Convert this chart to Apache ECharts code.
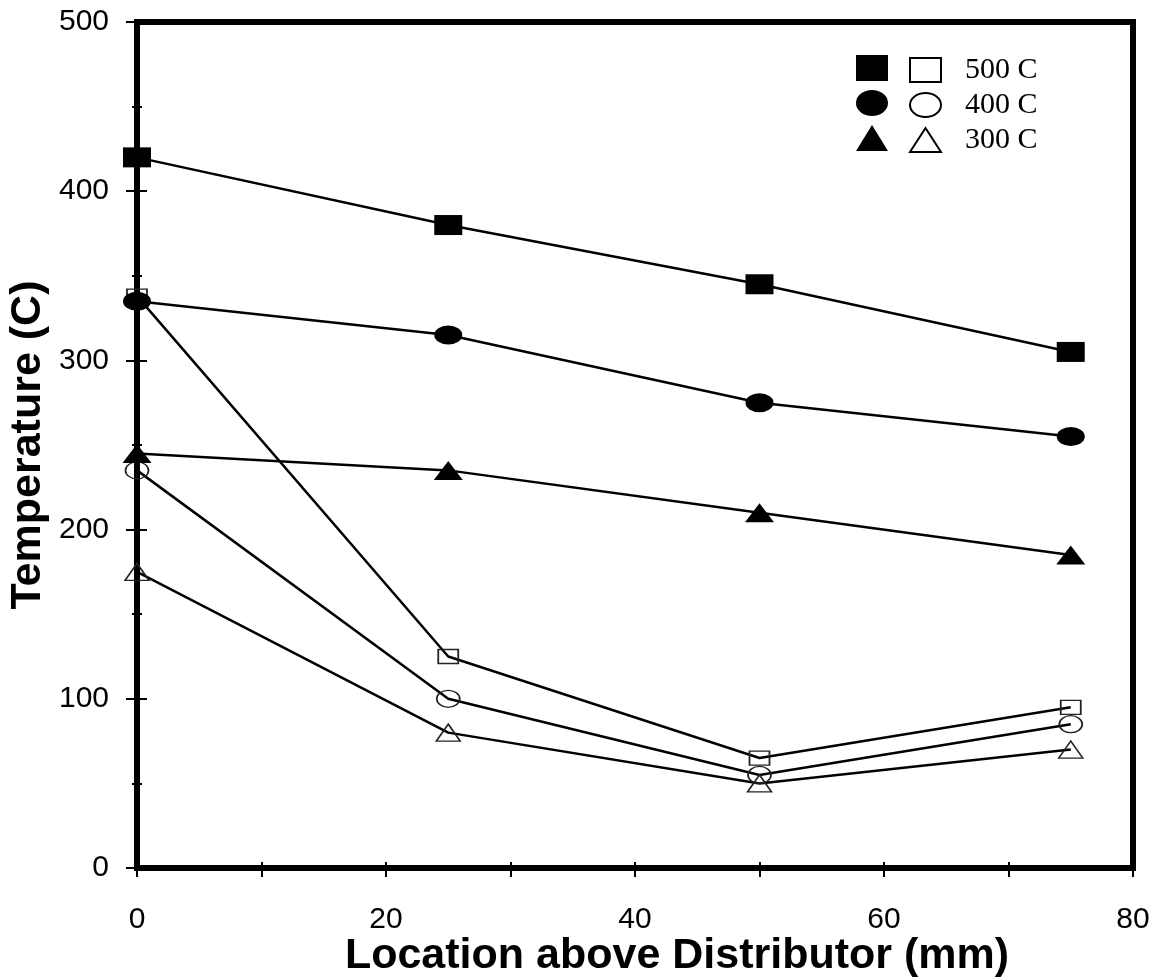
<!DOCTYPE html>
<html>
<head>
<meta charset="utf-8">
<script src="https://cdn.jsdelivr.net/npm/echarts@6/dist/echarts.min.js"></script>
<style>
  html, body { margin: 0; padding: 0; background: #fff; }
  #chart { width: 1154px; height: 980px; }
</style>
</head>
<body>
<div id="chart"></div>
<script>
// Bed temperature profiles along the height above the distributor
const locations = [0, 25, 50, 75];               // mm
const solid500 = [420, 380, 345, 305];
const solid400 = [335, 315, 275, 255];
const solid300 = [245, 235, 210, 185];
const open500  = [338, 125, 65, 95];
const open400  = [235, 100, 55, 85];
const open300  = [175, 80, 50, 70];
const legendLabels = ['500 C', '400 C', '300 C'];

const ellipse = 'path://M0,1A1,1 0 1 1 2,1A1,1 0 1 1 0,1Z';
const toPoints = vals => locations.map((x, i) => [x, vals[i]]);

const OPEN_SUFFIX = ' open';

function solidSeries(name, vals, symbol, size) {
  return {
    name: name, type: 'line', data: toPoints(vals),
    symbol: symbol, symbolSize: size, showSymbol: true, clip: false, z: 4,
    lineStyle: { color: '#000', width: 2.5 },
    itemStyle: { color: '#000', borderWidth: 0 }
  };
}
function openSeries(name, vals, symbol, size) {
  return {
    name: name + OPEN_SUFFIX, type: 'line', data: toPoints(vals),
    symbol: symbol, symbolSize: size, showSymbol: true, clip: false, z: 3,
    lineStyle: { color: '#000', width: 2.5 },
    itemStyle: { color: 'rgba(0,0,0,0)', borderColor: '#222', borderWidth: 1.5 }
  };
}

const series = [
  openSeries(legendLabels[0], open500, 'rect', [20, 14]),
  openSeries(legendLabels[1], open400, ellipse, [23, 17]),
  openSeries(legendLabels[2], open300, 'triangle', [24, 17]),
  solidSeries(legendLabels[0], solid500, 'rect', [28, 20]),
  solidSeries(legendLabels[1], solid400, ellipse, [28, 19]),
  solidSeries(legendLabels[2], solid300, 'triangle', [29, 19])
];

const icons = ['rect', ellipse, 'triangle'];
const tickFont = { fontFamily: 'Liberation Sans, Arial, sans-serif', fontSize: 30, color: '#000' };
const titleFont = { fontFamily: 'Liberation Sans, Arial, sans-serif', fontSize: 43, fontWeight: 'bold', color: '#000' };

const chart = echarts.init(document.getElementById('chart'), null, { renderer: 'canvas' });
chart.setOption({
  animation: false,
  backgroundColor: '#fff',
  grid: {
    left: 137, right: 21, top: 22, bottom: 112,
    outerBoundsMode: 'none', containLabel: false,
    show: true, borderColor: '#000', borderWidth: 6, backgroundColor: 'transparent'
  },
  legend: [
    {
      orient: 'vertical', left: 856, top: 55, padding: 0,
      itemWidth: 32, itemHeight: 26, itemGap: 9,
      symbolKeepAspect: false,
      selectedMode: false,
      data: legendLabels.map((n, i) => ({ name: n, icon: icons[i] })),
      formatter: () => '',
      itemStyle: { color: '#000', borderWidth: 0 },
      textStyle: { fontSize: 26, lineHeight: 26 }
    },
    {
      orient: 'vertical', left: 909, top: 55, padding: 0,
      itemWidth: 31, itemHeight: 24, itemGap: 5,
      symbolKeepAspect: false,
      selectedMode: false,
      data: legendLabels.map((n, i) => ({ name: n + OPEN_SUFFIX, icon: icons[i] })),
      formatter: name => name.replace(OPEN_SUFFIX, ''),
      itemStyle: { color: 'rgba(0,0,0,0)', borderColor: '#000', borderWidth: 2 },
      textStyle: {
        fontFamily: 'Liberation Serif, Times New Roman, serif', fontSize: 30,
        color: '#000', lineHeight: 26, padding: [0, 0, 0, 19]
      }
    }
  ],
  xAxis: [
    {
      type: 'value', min: 0, max: 80, interval: 20, position: 'bottom',
      name: 'Location above Distributor (mm)', nameLocation: 'middle', nameGap: 67,
      nameMoveOverlap: false,
      nameTextStyle: Object.assign({ padding: [0, 0, 0, 84] }, titleFont),
      axisLine: { show: true, onZero: false, lineStyle: { color: '#000', width: 6 } },
      axisTick: { show: true, inside: false, length: 9, lineStyle: { color: '#000', width: 2 } },
      minorTick: { show: true, splitNumber: 2, length: 9, lineStyle: { color: '#000', width: 2 } },
      axisLabel: Object.assign({ margin: 37 }, tickFont),
      splitLine: { show: false }
    },
    {
      type: 'value', min: 0, max: 80, interval: 20, position: 'bottom',
      axisLine: { show: false },
      axisTick: { show: true, inside: true, length: 6, lineStyle: { color: '#000', width: 2 } },
      minorTick: { show: true, splitNumber: 2, length: 6, lineStyle: { color: '#000', width: 2 } },
      axisLabel: { show: false },
      splitLine: { show: false }
    }
  ],
  yAxis: [
    {
      type: 'value', min: 0, max: 500, interval: 100, position: 'left',
      name: 'Temperature (C)', nameLocation: 'middle', nameGap: 87,
      nameMoveOverlap: false,
      nameTextStyle: titleFont,
      axisLine: { show: true, onZero: false, lineStyle: { color: '#000', width: 6 } },
      axisTick: { show: true, inside: false, length: 11, lineStyle: { color: '#000', width: 2 } },
      minorTick: { show: true, splitNumber: 2, length: 5, lineStyle: { color: '#000', width: 2 } },
      axisLabel: Object.assign({ margin: 28 }, tickFont),
      splitLine: { show: false }
    },
    {
      type: 'value', min: 0, max: 500, interval: 100, position: 'left',
      axisLine: { show: false },
      axisTick: { show: true, inside: true, length: 10, lineStyle: { color: '#000', width: 2 } },
      minorTick: { show: true, splitNumber: 2, length: 5, lineStyle: { color: '#000', width: 2 } },
      axisLabel: { show: false },
      splitLine: { show: false }
    }
  ],
  series: series
});
</script>
</body>
</html>
